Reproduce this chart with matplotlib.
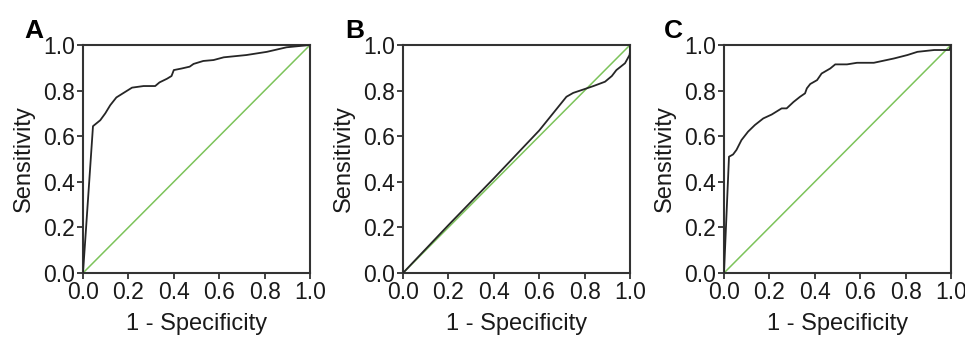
import numpy as np
import matplotlib
matplotlib.use("Agg")
import matplotlib.pyplot as plt

# ROC-kurvor
a_fpr = [0.0, 0.044, 0.076, 0.098, 0.12, 0.147, 0.179, 0.216, 0.267, 0.318, 0.337, 0.37, 0.39,
         0.40, 0.435, 0.47, 0.487, 0.53, 0.575, 0.62, 0.72, 0.81, 0.897, 1.0]
a_tpr = [0.0, 0.644, 0.67, 0.70, 0.736, 0.77, 0.79, 0.813, 0.82, 0.82, 0.836, 0.852, 0.864,
         0.89, 0.897, 0.905, 0.917, 0.93, 0.934, 0.946, 0.956, 0.97, 0.99, 1.0]

b_fpr = [0.0, 0.2, 0.4, 0.6, 0.72, 0.75, 0.795, 0.839, 0.89, 0.92, 0.94, 0.978, 0.998, 1.0, 1.0]
b_tpr = [0.0, 0.21, 0.415, 0.625, 0.773, 0.79, 0.805, 0.82, 0.839, 0.864, 0.89, 0.92, 0.956, 0.97, 1.0]

c_fpr = [0.0, 0.022, 0.04, 0.055, 0.077, 0.106, 0.136, 0.173, 0.21, 0.254, 0.276, 0.306, 0.335,
         0.357, 0.365, 0.38, 0.41, 0.43, 0.468, 0.49, 0.542, 0.586, 0.66, 0.749, 0.808, 0.852,
         0.926, 0.993, 1.0]
c_tpr = [0.0, 0.51, 0.52, 0.54, 0.583, 0.62, 0.649, 0.678, 0.695, 0.722, 0.722, 0.75, 0.773,
         0.788, 0.81, 0.829, 0.846, 0.875, 0.897, 0.915, 0.915, 0.922, 0.922, 0.941, 0.956, 0.97,
         0.978, 0.978, 1.0]

panels = ["A", "B", "C"]
curves = [(a_fpr, a_tpr), (b_fpr, b_tpr), (c_fpr, c_tpr)]
ticks = [0.0, 0.2, 0.4, 0.6, 0.8, 1.0]

plt.rcParams["font.family"] = ["Liberation Sans", "DejaVu Sans"]

fig = plt.figure(figsize=(9.65, 3.37), dpi=100)
lefts = [83, 403, 724]
letter_x = [24, 345, 664]

for i, (name, (fx, ty)) in enumerate(zip(panels, curves)):
    ax = fig.add_axes([lefts[i] / 965, 1 - 273 / 337, 227 / 965, 228 / 337])
    ax.plot([0, 1], [0, 1], color="#7cc35a", lw=1.1, zorder=2)
    ax.plot(fx, ty, color="#262626", lw=1.3, zorder=3)
    ax.set_xlim(0, 1)
    ax.set_ylim(0, 1)
    ax.set_xticks(ticks)
    ax.set_yticks(ticks)
    ax.set_xticklabels([f"{t:.1f}" for t in ticks])
    ax.set_yticklabels([f"{t:.1f}" for t in ticks])
    ax.tick_params(direction="out", length=4, width=1.3, labelsize=16.5, pad=1.5,
                   color="#333333", labelcolor="#1a1a1a")
    for s in ax.spines.values():
        s.set_linewidth(1.5)
        s.set_color("#333333")
    ax.set_xlabel("1 - Specificity", fontsize=17, labelpad=7, color="#1a1a1a")
    ax.set_ylabel("Sensitivity", fontsize=17, labelpad=6, color="#1a1a1a")
    fig.text(letter_x[i] / 965, 1 - 38 / 337, name, fontsize=19, fontweight="bold",
             ha="left", va="baseline")

fig.savefig("out.png", dpi=100)
